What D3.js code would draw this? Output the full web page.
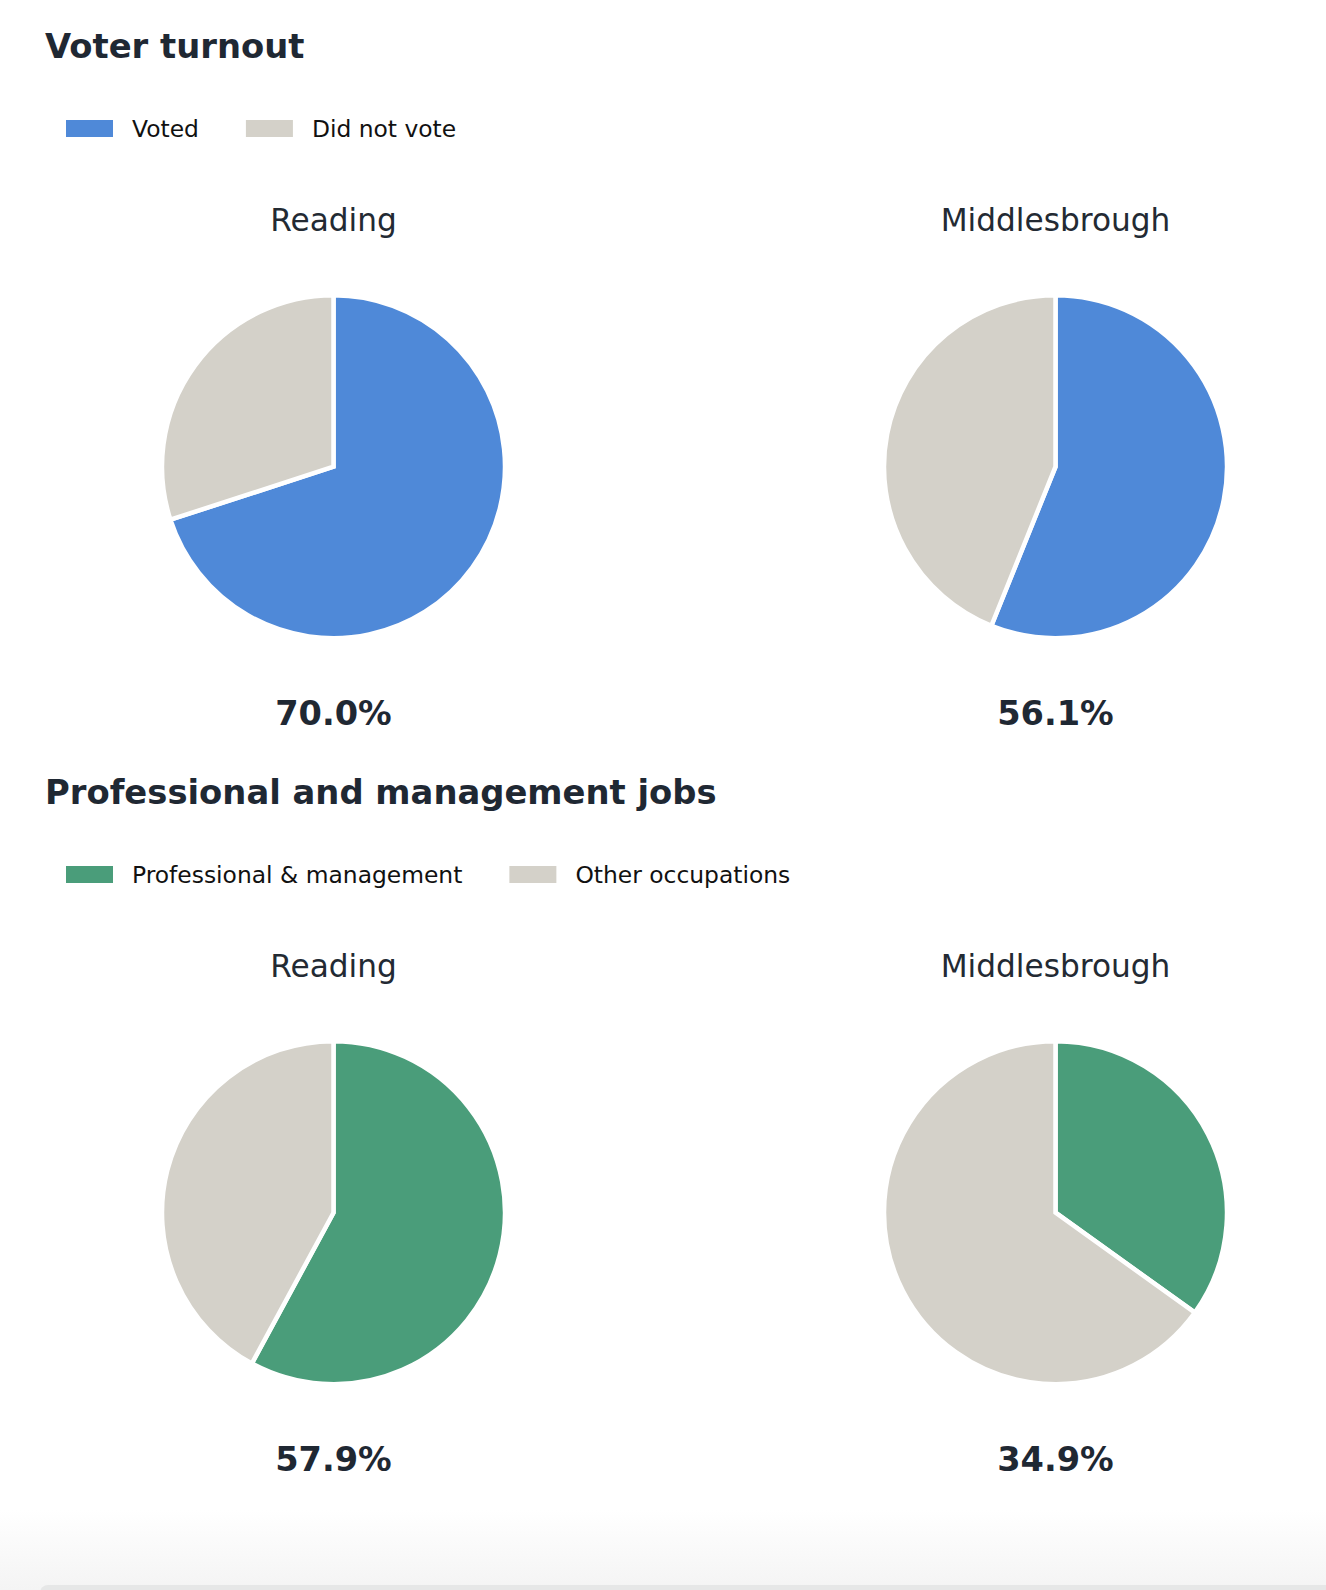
<!DOCTYPE html>
<html lang="en">
<head>
<meta charset="UTF-8">
<title>Voter turnout and jobs</title>
<script src="https://d3js.org/d3.v7.min.js"></script>
<style>
    body {
    margin: 0;
    background: #fff;
    font-family: "DejaVu Sans", sans-serif;
}
    .section-title {
    font-weight: bold;
    font-size: 33.8px;
    fill: #1f2833;
}
    .legend-label {
    font-size: 23.4px;
    fill: #111;
}
    .place-label {
    font-size: 31.2px;
    fill: #232a33;
}
    .pct-label {
    font-weight: bold;
    font-size: 33.6px;
    fill: #1f2833;
}
    .slice {
    stroke: #fff;
    stroke-width: 4.5;
}
</style>
</head>
<body>
<svg width="1326" height="1590"></svg>
<script>
    // Data
    const places = ["Reading", "Middlesbrough"];

    const turnoutTitle = "Voter turnout";
    const turnoutKeys = ["Voted", "Did not vote"];
    const turnoutColors = ["#4f89d8", "#d4d1c9"];
    const turnoutVoted = [70.0, 56.1];

    const jobsTitle = "Professional and management jobs";
    const jobsKeys = ["Professional & management", "Other occupations"];
    const jobsColors = ["#4a9d7a", "#d4d1c9"];
    const jobsProfessional = [57.9, 34.9];

    const sections = [
    { title: turnoutTitle, keys: turnoutKeys, colors: turnoutColors, values: turnoutVoted },
    { title: jobsTitle, keys: jobsKeys, colors: jobsColors, values: jobsProfessional }
    ];

    const svg = d3.select("svg");
    const sectionHeight = 746;
    const radius = 171.5;

    // subtle page fade + card edge at the bottom
    const defs = svg.append("defs");
    const grad = defs.append("linearGradient")
    .attr("id", "fade").attr("x1", 0).attr("x2", 0).attr("y1", 0).attr("y2", 1);
    grad.append("stop").attr("offset", "0%").attr("stop-color", "#ffffff");
    grad.append("stop").attr("offset", "100%").attr("stop-color", "#f4f4f4");
    svg.append("rect")
    .attr("x", 0).attr("y", 1510).attr("width", 1326).attr("height", 80)
    .attr("fill", "url(#fade)");
    svg.append("rect")
    .attr("x", 40).attr("y", 1585).attr("width", 1300).attr("height", 20)
    .attr("rx", 8).attr("fill", "#e6e7e7");

    const xScale = d3.scalePoint()
    .domain(places)
    .range([333.5, 1055.5]);

    const pie = d3.pie().sort(null).value(d => d);
    const arc = d3.arc().innerRadius(0).outerRadius(radius);
    const fmt = d3.format(".1f");

    sections.forEach((s, si) => {
    const g = svg.append("g")
    .attr("transform", `translate(0,${si * sectionHeight})`);

    g.append("text")
    .attr("class", "section-title")
    .attr("x", 45)
    .attr("y", 58)
    .text(s.title);

    // legend
    const legend = g.append("g").attr("transform", "translate(66,120)");
    let lx = 0;
    s.keys.forEach((k, i) => {
    const item = legend.append("g").attr("transform", `translate(${lx},0)`);
    item.append("rect")
    .attr("width", 47).attr("height", 17)
    .attr("fill", s.colors[i]);
    const t = item.append("text")
    .attr("class", "legend-label")
    .attr("x", 66)
    .attr("y", 16.5)
    .text(k);
    lx += 66 + t.node().getComputedTextLength() + 47;
    });

    places.forEach((p, pi) => {
    const cx = xScale(p);
    const v = s.values[pi];

    g.append("text")
    .attr("class", "place-label")
    .attr("x", cx)
    .attr("y", 231)
    .attr("text-anchor", "middle")
    .text(p);

    const pg = g.append("g")
    .attr("transform", `translate(${cx},466.7)`);
    pg.selectAll("path")
    .data(pie([v, 100 - v]))
    .enter().append("path")
    .attr("class", "slice")
    .attr("d", arc)
    .attr("fill", (d, i) => s.colors[i]);

    g.append("text")
    .attr("class", "pct-label")
    .attr("x", cx)
    .attr("y", 725)
    .attr("text-anchor", "middle")
    .text(fmt(v) + "%");
    });
    });
</script>
</body>
</html>
